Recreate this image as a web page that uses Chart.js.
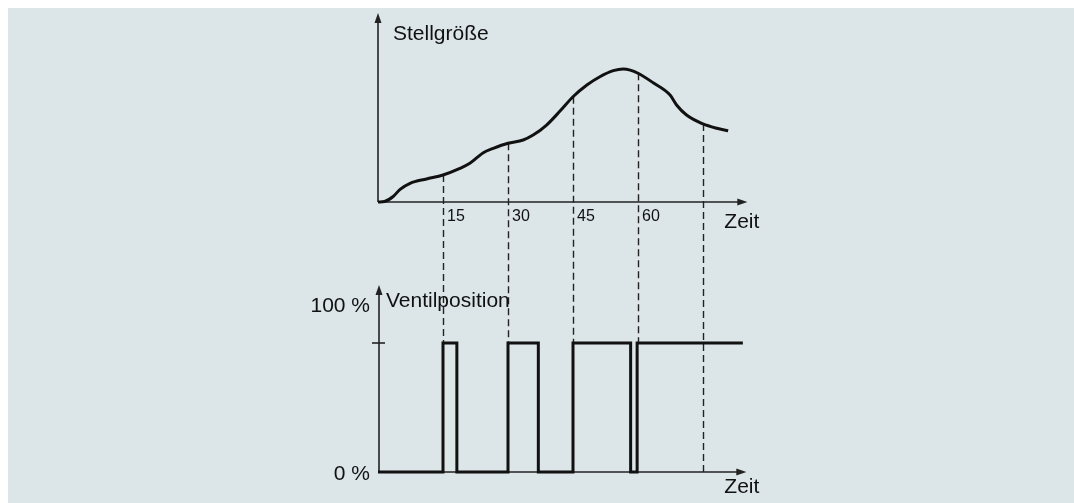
<!DOCTYPE html>
<html>
<head>
<meta charset="utf-8">
<script src="https://cdn.jsdelivr.net/npm/chart.js@4"></script>
<style>
    html, body { margin: 0; padding: 0; background: #fff; }
    .panel {
        position: absolute;
        left: 8px; top: 8px; right: 0; bottom: 0;
        background: #dce5e8;
    }
    #chart { position: absolute; left: 0; top: 0; }
</style>
</head>
<body>
<div class="panel"></div>
<canvas id="chart" width="1074" height="503"></canvas>
<script>
// --- data --- //
// Stellgröße over time (arbitrary units, 100 = top of the axis)
const curveTime  = [0, 1.5, 3.5, 5.1, 7.4, 11.2, 15, 18.9, 21.2, 24.3, 26.6, 30, 33.5, 35.8, 38.9, 42, 45, 48.2, 51.2, 54.3, 56.6, 58.2, 60, 63.5, 67.4, 68.9, 71.2, 75, 78.2, 80.8];
const curveValue = [0, 0.3, 2.9, 6.7, 9.9, 12.2, 14.3, 17.8, 20.5, 26.1, 28.4, 31.1, 32.8, 35.4, 40.7, 48.1, 55.7, 61.9, 66.3, 69.5, 70.4, 69.8, 68.1, 63.1, 56.6, 51.3, 46, 41.3, 39, 37.7];

// valve position in %, each point is a switching moment
const valveTime  = [0, 15, 18.2, 30, 37, 45, 58.3, 59.8, 84.2];
const valveValue = [0, 100, 0, 100, 0, 100, 0, 100, 100];

// sampling moments (dashed guides) and where each guide ends in the lower plot
const markerTime  = [15, 30, 45, 60, 75];
const markerLevel = [100, 100, 100, 100, 0];

const timeTicks = [15, 30, 45, 60];

// --- layout --- //
const AREA_LEFT = 378;
const AREA_TOP = 13;
const AREA_BOTTOM = 472;
const UPPER_BASE = 202;   // zero line of the upper plot
const LOWER_FULL = 343;   // 100 % line of the lower plot
const X_MAX = 85;
const PX_PER_UNIT = 65 / 15;
const areaRight = AREA_LEFT + X_MAX * PX_PER_UNIT;

// both y scales share the full chart area, ranges chosen so each plot sits in its own band
const upperMin = -100 * (AREA_BOTTOM - UPPER_BASE) / (UPPER_BASE - AREA_TOP);
const lowerMax = 100 * (AREA_BOTTOM - AREA_TOP) / (AREA_BOTTOM - LOWER_FULL);

const INK = '#111';
const FONT = '"Liberation Sans", Arial, Helvetica, sans-serif';

const toPoints = (xs, ys) => xs.map((x, i) => ({ x: x, y: ys[i] }));

function arrow(ctx, x, y, dir) {
    // small filled arrow head with its tip at (x, y)
    ctx.beginPath();
    if (dir === 'up') {
        ctx.moveTo(x, y);
        ctx.lineTo(x - 3.5, y + 10);
        ctx.lineTo(x + 3.5, y + 10);
    } else {
        ctx.moveTo(x, y);
        ctx.lineTo(x - 10, y - 3.5);
        ctx.lineTo(x - 10, y + 3.5);
    }
    ctx.closePath();
    ctx.fill();
}

// axes, guides and labels
const diagramPlugin = {
    id: 'diagram',
    beforeDatasetsDraw(chart) {
        const ctx = chart.ctx;
        const x = chart.scales.x;
        const yTop = chart.scales.yTop;
        const yBot = chart.scales.yBot;
        const x0 = x.getPixelForValue(0);
        const xEnd = x.getPixelForValue(X_MAX);

        ctx.save();
        ctx.strokeStyle = '#222';
        ctx.fillStyle = '#222';

        // dashed guides from the curve down to the valve plot
        ctx.lineWidth = 1.4;
        ctx.setLineDash([7, 4]);
        markerTime.forEach((t, i) => {
            const px = Math.round(x.getPixelForValue(t)) + 0.5;
            const v = curveValue[curveTime.indexOf(t)];
            ctx.beginPath();
            ctx.moveTo(px, yTop.getPixelForValue(v));
            ctx.lineTo(px, yBot.getPixelForValue(markerLevel[i]));
            ctx.stroke();
        });
        ctx.setLineDash([]);

        // upper axes
        const upBase = yTop.getPixelForValue(0);
        ctx.lineWidth = 1.6;
        ctx.beginPath();
        ctx.moveTo(x0, upBase);
        ctx.lineTo(x0, yTop.getPixelForValue(100) + 6);
        ctx.moveTo(x0, upBase);
        ctx.lineTo(xEnd - 6, upBase);
        ctx.stroke();
        arrow(ctx, x0, yTop.getPixelForValue(100), 'up');
        arrow(ctx, xEnd + 1, upBase, 'right');

        // lower axes
        const lowBase = yBot.getPixelForValue(0);
        const lowTop = yBot.getPixelForValue(145);
        const lx = x0 + 1;
        ctx.beginPath();
        ctx.moveTo(lx, lowBase);
        ctx.lineTo(lx, lowTop + 6);
        ctx.moveTo(x0, lowBase);
        ctx.lineTo(xEnd - 6, lowBase);
        ctx.stroke();
        arrow(ctx, lx, lowTop, 'up');
        arrow(ctx, xEnd, lowBase, 'right');

        // 100 % tick
        const full = yBot.getPixelForValue(100);
        ctx.beginPath();
        ctx.moveTo(lx - 7, full);
        ctx.lineTo(lx + 6, full);
        ctx.stroke();
        ctx.restore();
    },
    afterDraw(chart) {
        const ctx = chart.ctx;
        const x = chart.scales.x;
        const yTop = chart.scales.yTop;
        const yBot = chart.scales.yBot;
        const x0 = x.getPixelForValue(0);
        const xEnd = x.getPixelForValue(X_MAX);
        const upBase = yTop.getPixelForValue(0);
        const lowBase = yBot.getPixelForValue(0);

        ctx.save();
        ctx.fillStyle = INK;
        ctx.textBaseline = 'alphabetic';

        ctx.font = '21px ' + FONT;
        ctx.textAlign = 'left';
        ctx.fillText('Stellgröße', x0 + 15, 40);
        ctx.fillText('Zeit', xEnd - 22, upBase + 26);
        ctx.fillText('Ventilposition', x0 + 8, 307);
        ctx.fillText('Zeit', xEnd - 22, lowBase + 21);

        ctx.textAlign = 'right';
        ctx.fillText('100 %', x0 - 8, 312);
        ctx.fillText('0 %', x0 - 8, lowBase + 8);

        // time tick labels next to the guides
        ctx.font = '16px ' + FONT;
        ctx.textAlign = 'left';
        timeTicks.forEach(t => {
            ctx.fillText(String(t), x.getPixelForValue(t) + 4, upBase + 19);
        });
        ctx.restore();
    }
};

const chart = new Chart(document.getElementById('chart'), {
    type: 'line',
    data: {
        datasets: [{
            label: 'Stellgröße',
            data: toPoints(curveTime, curveValue),
            yAxisID: 'yTop',
            borderColor: INK,
            borderWidth: 3,
            pointRadius: 0,
            cubicInterpolationMode: 'monotone',
            clip: false
        }, {
            label: 'Ventilposition',
            data: toPoints(valveTime, valveValue),
            yAxisID: 'yBot',
            borderColor: INK,
            borderWidth: 3,
            pointRadius: 0,
            stepped: 'before',
            borderJoinStyle: 'miter',
            clip: false
        }]
    },
    options: {
        responsive: false,
        animation: false,
        layout: {
            padding: {
                left: AREA_LEFT,
                right: 1074 - areaRight,
                top: AREA_TOP,
                bottom: 503 - AREA_BOTTOM
            }
        },
        scales: {
            x: { type: 'linear', min: 0, max: X_MAX, display: false },
            yTop: { type: 'linear', min: upperMin, max: 100, display: false },
            yBot: { type: 'linear', min: 0, max: lowerMax, display: false }
        },
        plugins: {
            legend: { display: false },
            tooltip: { enabled: false }
        }
    },
    plugins: [diagramPlugin]
});
</script>
</body>
</html>
